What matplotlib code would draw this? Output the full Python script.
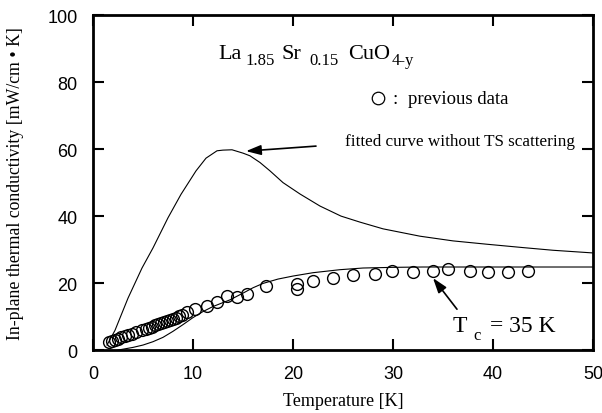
import matplotlib
matplotlib.use("Agg")
import matplotlib.pyplot as plt

# fitted curve without TS scattering (upper)
t_fit_no_ts = [1.4, 2.2, 3.5, 4.9, 6.0, 7.5, 8.8, 10.3, 11.3, 12.4, 13.0, 13.9,
               15.0, 15.7, 16.7, 17.7, 19.0, 20.7, 22.7, 24.8, 26.7, 29.0, 32.7,
               36.0, 39.4, 43.0, 46.0, 50.0]
k_fit_no_ts = [1.5, 5.9, 15.5, 24.5, 30.5, 39.5, 46.5, 53.5, 57.3, 59.5, 59.7, 59.8,
               58.8, 58.0, 56.0, 53.5, 50.0, 46.6, 43.0, 40.0, 38.2, 36.2, 34.0,
               32.6, 31.6, 30.6, 29.8, 29.0]

# fitted curve with TS scattering (lower)
t_fit = [2.5, 4.0, 5.0, 6.0, 7.0, 8.0, 9.0, 10.0, 11.0, 12.0, 13.7, 15.0, 16.0, 17.0,
         18.5, 20.0, 22.0, 24.7, 27.0, 30.0, 33.0, 36.0, 40.0, 45.0, 50.0]
k_fit = [0.0, 0.8, 1.5, 2.5, 3.8, 5.6, 7.6, 9.7, 11.5, 13.0, 15.0, 17.0, 18.6, 19.9,
         21.2, 22.1, 23.1, 24.0, 24.5, 24.7, 24.8, 24.8, 24.8, 24.8, 24.8]

# previous data (open circles)
t_data = [1.6, 1.9, 2.2, 2.5, 2.8, 3.2, 3.5, 3.9, 4.3, 4.9, 5.3, 5.6, 5.9, 6.2, 6.5,
          6.8, 7.1, 7.4, 7.7, 8.0, 8.3, 8.6, 8.9, 9.4, 10.2, 11.4, 12.4, 13.4, 14.4,
          15.4, 17.3, 20.4, 20.4, 22.0, 24.0, 26.0, 28.2, 29.9, 32.0, 34.0, 35.5,
          37.7, 39.5, 41.5, 43.5]
k_data = [2.4, 2.7, 3.1, 3.4, 3.8, 4.2, 4.5, 4.9, 5.3, 6.0, 6.4, 6.7, 7.0, 7.4, 7.7,
          8.0, 8.4, 8.7, 9.0, 9.4, 9.7, 10.1, 10.5, 11.3, 12.2, 13.1, 14.3, 16.1, 15.8,
          16.7, 19.1, 19.7, 18.2, 20.6, 21.5, 22.4, 22.7, 23.6, 23.3, 23.6, 24.2,
          23.6, 23.3, 23.3, 23.6]

x_ticks = [0, 10, 20, 30, 40, 50]
y_ticks = [0, 20, 40, 60, 80, 100]

serif = "Liberation Serif"
sans = "Liberation Sans"

fig = plt.figure(figsize=(6.02, 4.14), dpi=100)
ax = fig.add_axes([0.1545, 0.152, 0.8305, 0.809])

ax.plot(t_fit_no_ts, k_fit_no_ts, color="black", lw=0.8)
ax.plot(t_fit, k_fit, color="black", lw=0.8)
ax.plot(t_data, k_data, linestyle="none", marker="o", ms=8.5,
        mfc="none", mec="black", mew=1.0)

ax.set_xlim(0, 50)
ax.set_ylim(0, 100)
ax.set_xticks(x_ticks)
ax.set_yticks(y_ticks)
ax.tick_params(direction="in", length=8, width=1.5, top=True, right=True,
               pad=11, labelsize=13)
for lab in ax.get_xticklabels() + ax.get_yticklabels():
    lab.set_fontfamily(sans)
for sp in ax.spines.values():
    sp.set_linewidth(2.0)

ax.set_xlabel("Temperature [K]", fontfamily=serif, fontsize=13)
ax.xaxis.set_label_coords(0.5, -0.125)
ax.set_ylabel("In-plane thermal conductivity [mW/cm \u2022 K]",
              fontfamily=serif, fontsize=12.8)
ax.yaxis.set_label_coords(-0.138, 0.5)

# compound formula, drawn piece by piece
ax.text(12.5, 87.3, "La", fontfamily=serif, fontsize=16)
ax.text(15.2, 85.3, "1.85", fontfamily=serif, fontsize=12)
ax.text(18.9, 87.3, "Sr", fontfamily=serif, fontsize=16)
ax.text(21.6, 85.3, "0.15", fontfamily=serif, fontsize=12)
ax.text(25.5, 87.3, "CuO", fontfamily=serif, fontsize=16)
ax.text(29.9, 85.3, "4-y", fontfamily=serif, fontsize=12)

ax.plot([28.5], [75.2], marker="o", ms=9, mfc="none", mec="black", mew=0.9)
ax.text(30.0, 75.0, ":", fontfamily=serif, fontsize=13.5, va="center")
ax.text(31.5, 75.0, "previous data", fontfamily=serif, fontsize=13.5,
        va="center")

ax.text(25.2, 62.5, "fitted curve without TS scattering", fontfamily=serif,
        fontsize=12.3, va="center")
ax.annotate("", xy=(15.3, 59.4), xytext=(22.3, 60.9),
            arrowprops=dict(arrowstyle="-|>,head_length=0.9,head_width=0.3",
                            color="black", lw=1.2, shrinkA=0, shrinkB=0))

ax.text(36.0, 5.6, "T", fontfamily=serif, fontsize=17)
ax.text(38.0, 3.4, "c", fontfamily=serif, fontsize=12)
ax.text(39.7, 5.6, "= 35 K", fontfamily=serif, fontsize=17)
ax.annotate("", xy=(34.0, 21.5), xytext=(36.4, 12.2),
            arrowprops=dict(arrowstyle="-|>,head_length=0.9,head_width=0.3",
                            color="black", lw=1.2, shrinkA=0, shrinkB=0))

fig.savefig("out.png", dpi=100)
